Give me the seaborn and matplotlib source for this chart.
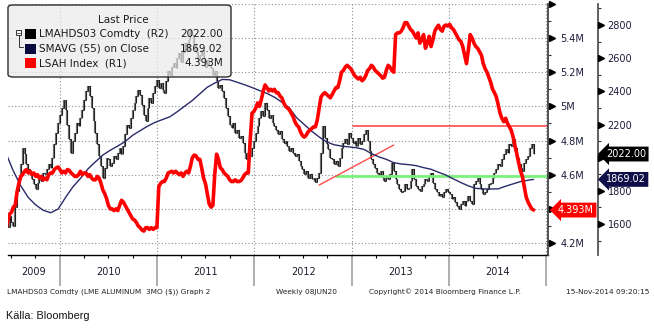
import numpy as np
import pandas as pd
import matplotlib
matplotlib.use("Agg")
import matplotlib.pyplot as plt
import matplotlib.dates as mdates
import matplotlib.ticker as mticker
import matplotlib.transforms as mtransforms
from matplotlib.patches import FancyBboxPatch, Rectangle
from matplotlib.lines import Line2D
import seaborn as sns

# ---------------------------------------------------------------- data
first_week = "2009-06-12"

# LME aluminium 3M, weekly closes (USD/t)
aluminium_close = [
    1620, 1580, 1650, 1610, 1590, 1700, 1800, 1880, 1960, 2060,
    2020, 1960, 1930, 1900, 1870, 1840, 1810, 1850, 1880, 1860,
    1910, 1900, 1930, 1960, 1940, 2000, 2080, 2150, 2210, 2260,
    2300, 2350, 2290, 2200, 2110, 2030, 2100, 2150, 2210, 2190,
    2240, 2290, 2350, 2400, 2430, 2370, 2300, 2220, 2150, 2080,
    2010, 1950, 1880, 1940, 2000, 1990, 1950, 1970, 2010, 1990,
    2030, 2060, 2020, 2070, 2140, 2200, 2180, 2240, 2290, 2330,
    2370, 2410, 2380, 2320, 2260, 2220, 2300, 2360, 2330, 2390,
    2430, 2470, 2420, 2450, 2410, 2390, 2460, 2520, 2500, 2550,
    2570, 2540, 2600, 2630, 2580, 2640, 2690, 2650, 2710, 2770,
    2740, 2680, 2640, 2590, 2620, 2650, 2600, 2550, 2590, 2560,
    2540, 2500, 2520, 2460, 2420, 2440, 2400, 2360, 2300, 2250,
    2200, 2180, 2210, 2150, 2170, 2120, 2130, 2090, 2030, 1990,
    2030, 2010, 2060, 2100, 2150, 2190, 2240, 2280, 2250, 2330,
    2290, 2240, 2260, 2210, 2190, 2170, 2140, 2160, 2110, 2090,
    2100, 2070, 2040, 2060, 2030, 2010, 2020, 1980, 1950, 1930,
    1900, 1920, 1880, 1900, 1870, 1880, 1855, 1880, 1910, 2030,
    2190, 2120, 2080, 2050, 2000, 1990, 1960, 1980, 1950, 2000,
    2060, 2090, 2110, 2080, 2150, 2120, 2090, 2100, 2070, 2120,
    2080, 2100, 2140, 2170, 2100, 2040, 1990, 1960, 1940, 1910,
    1890, 1920, 1880, 1860, 1890, 1870, 1900, 1970, 1920, 1870,
    1840, 1810, 1790, 1800, 1840, 1810, 1820, 1860, 1930, 1870,
    1830, 1810, 1800, 1830, 1840, 1870, 1860, 1890, 1910, 1850,
    1810, 1790, 1770, 1780, 1760, 1790, 1810, 1790, 1780, 1750,
    1760, 1730, 1710, 1690, 1720, 1740, 1710, 1740, 1770, 1740,
    1720, 1840, 1860, 1880, 1840, 1810, 1780, 1790, 1810, 1840,
    1850, 1880, 1910, 1930, 1960, 1950, 1990, 2020, 2050, 2030,
    2080, 2070, 2110, 2060, 2000, 1960, 1940, 1920, 1970, 1990,
    2010, 2060, 2080, 2022.00,
]

# LME aluminium stocks, LSAH Index (million tonnes), weekly
lsah_index_m = [
    4.28, 4.33, 4.37, 4.38, 4.41, 4.42, 4.50, 4.55, 4.59, 4.60,
    4.62, 4.63, 4.61, 4.62, 4.60, 4.61, 4.59, 4.60, 4.58, 4.59,
    4.57, 4.58, 4.57, 4.60, 4.61, 4.61, 4.63, 4.64, 4.645, 4.63,
    4.61, 4.62, 4.61, 4.63, 4.625, 4.61, 4.60, 4.59, 4.59, 4.60,
    4.62, 4.60, 4.61, 4.61, 4.59, 4.60, 4.58, 4.57, 4.57, 4.59,
    4.58, 4.55, 4.51, 4.49, 4.46, 4.42, 4.40, 4.40, 4.39, 4.40,
    4.39, 4.42, 4.45, 4.44, 4.42, 4.40, 4.38, 4.36, 4.34, 4.335,
    4.32, 4.30, 4.29, 4.276, 4.27, 4.29, 4.29, 4.28, 4.29, 4.28,
    4.29, 4.29, 4.53, 4.55, 4.56, 4.56, 4.58, 4.61, 4.615, 4.62,
    4.61, 4.62, 4.61, 4.60, 4.61, 4.59, 4.61, 4.62, 4.61, 4.65,
    4.70, 4.715, 4.71, 4.69, 4.69, 4.64, 4.58, 4.55, 4.49, 4.43,
    4.41, 4.42, 4.60, 4.72, 4.69, 4.64, 4.63, 4.61, 4.60, 4.59,
    4.57, 4.56, 4.56, 4.57, 4.56, 4.56, 4.565, 4.58, 4.60, 4.61,
    4.61, 4.80, 4.96, 4.97, 4.99, 5.02, 5.00, 5.04, 5.09, 5.125,
    5.11, 5.09, 5.10, 5.09, 5.10, 5.08, 5.08, 5.06, 5.05, 5.02,
    5.00, 4.99, 4.98, 4.96, 4.94, 4.91, 4.89, 4.88, 4.85, 4.83,
    4.82, 4.83, 4.85, 4.86, 4.87, 4.88, 4.88, 4.92, 4.99, 5.055,
    5.07, 5.08, 5.07, 5.06, 5.05, 5.07, 5.09, 5.11, 5.11, 5.15,
    5.20, 5.21, 5.23, 5.24, 5.23, 5.22, 5.20, 5.18, 5.17, 5.16,
    5.17, 5.15, 5.16, 5.18, 5.21, 5.22, 5.24, 5.23, 5.21, 5.20,
    5.19, 5.18, 5.165, 5.17, 5.21, 5.24, 5.23, 5.21, 5.20, 5.42,
    5.43, 5.43, 5.44, 5.46, 5.49, 5.49, 5.47, 5.45, 5.44, 5.42,
    5.40, 5.43, 5.37, 5.39, 5.42, 5.34, 5.37, 5.41, 5.35, 5.39,
    5.44, 5.46, 5.475, 5.45, 5.44, 5.47, 5.476, 5.47, 5.48, 5.46,
    5.45, 5.43, 5.41, 5.39, 5.38, 5.35, 5.30, 5.25, 5.33, 5.42,
    5.40, 5.37, 5.35, 5.34, 5.32, 5.30, 5.25, 5.22, 5.20, 5.17,
    5.14, 5.10, 5.08, 5.055, 5.01, 4.96, 4.93, 4.91, 4.93, 4.90,
    4.88, 4.86, 4.82, 4.77, 4.72, 4.67, 4.62, 4.59, 4.53, 4.47,
    4.44, 4.42, 4.40, 4.393,
]

# 55-week simple moving average of the close, sampled every 4th week
sma_week_idx = list(range(0, 281, 4)) + [283]
sma55_close = [
    2028, 1920, 1830, 1760, 1715, 1683, 1668, 1690, 1760, 1825,
    1875, 1932, 1975, 2016, 2045, 2070, 2098, 2135, 2163, 2190,
    2213, 2230, 2247, 2278, 2312, 2345, 2385, 2425, 2450, 2472,
    2470, 2455, 2440, 2423, 2405, 2388, 2365, 2335, 2300, 2240,
    2200, 2160, 2125, 2095, 2078, 2070, 2065, 2060, 2050, 2025,
    2005, 1990, 1970, 1962, 1958, 1952, 1940, 1930, 1912, 1895,
    1872, 1850, 1830, 1815, 1812, 1811, 1812, 1828, 1842, 1856,
    1864, 1869.02,
]

# drawn annotations (price axis)
resistance_level = 2192
resistance_start = "2013-01-04"
support_level = 1891
support_start = "2012-11-02"
trend_dates = ["2012-08-31", "2013-06-07"]
trend_values = [1835, 2076]

year_labels = ["2009", "2010", "2011", "2012", "2013", "2014"]
price_ticks = [1600, 1800, 2000, 2200, 2400, 2600, 2800]
stock_ticks = [4.2, 4.4, 4.6, 4.8, 5.0, 5.2, 5.4, 5.6]

legend_labels = ["LMAHDS03 Comdty  (R2)", "SMAVG (55) on Close", "LSAH Index  (R1)"]

# ---------------------------------------------------------------- style
sns.set_style("white")
plt.rcParams["font.family"] = ["DejaVu Sans"]

W, H = 654, 330
fig = plt.figure(figsize=(W / 100, H / 100), dpi=100)
fig.patch.set_facecolor("white")

# price axis (outer right), stock axis (inner right)
ax = fig.add_axes([8 / W, 1 - 255 / H, 540 / W, 251 / H])
ax2 = ax.twinx()
ax.yaxis.tick_right()
ax.set_zorder(1)
ax2.set_zorder(2)
ax2.patch.set_visible(False)

dates = pd.date_range(first_week, periods=len(aluminium_close), freq="7D")
sma_dates = dates[sma_week_idx]

x0, x1 = pd.Timestamp("2009-06-20"), pd.Timestamp("2015-01-07")
ax.set_xlim(x0, x1)
ax.set_ylim(1413, 2927)
ax2.set_ylim(4.130, 5.599)

# dotted grid: stock-axis levels and year starts
grid_kw = dict(color="#8c8c8c", lw=0.8, ls=(0, (1, 2)), zorder=0)
gtrans = mtransforms.blended_transform_factory(ax.transAxes, ax2.transData)
for v in stock_ticks:
    ax.plot([0, 1], [v, v], transform=gtrans, **grid_kw)
for yr in range(2010, 2016):
    ax.axvline(pd.Timestamp(f"{yr}-01-01"), **grid_kw)

# weekly OHLC bars, open taken as the prior week's close
close = np.asarray(aluminium_close, dtype=float)
open_ = np.r_[close[0], close[:-1]]
hi = np.maximum(open_, close)
lo = np.minimum(open_, close)
ax.vlines(dates, lo, hi, color="#6e6e6e", lw=1.6, zorder=2)
ax.vlines(dates, lo, hi, color="#111111", lw=0.6, zorder=2.1)
tick = pd.Timedelta(days=3)
ax.hlines(open_, dates - tick, dates, color="#111111", lw=0.8, zorder=2.2)
ax.hlines(close, dates, dates + tick, color="#111111", lw=0.8, zorder=2.2)

# moving average and stocks
sns.lineplot(x=sma_dates, y=sma55_close, ax=ax, color="#2a2a6a", lw=1.0, zorder=3)
sns.lineplot(x=dates, y=lsah_index_m, ax=ax2, color="#ff0000", lw=2.6, zorder=3)

# support / resistance / trend lines
ax.plot([pd.Timestamp(resistance_start), x1], [resistance_level] * 2,
        color="#ff4b4b", lw=1.2, zorder=2.5)
ax.plot([pd.Timestamp(support_start), x1], [support_level] * 2,
        color="#7cf27c", lw=2.0, zorder=2.5)
ax.plot(pd.to_datetime(trend_dates), trend_values, color="#ff4b4b", lw=1.0, zorder=2.5)

for a in (ax, ax2):
    a.set_xlabel("")
    a.set_ylabel("")

# ---------------------------------------------------------------- spines
for s in ("top", "left"):
    ax.spines[s].set_visible(False)
ax.spines["bottom"].set_color("black")
ax.spines["bottom"].set_linewidth(1.0)
ax.spines["right"].set_position(("outward", 36))
ax.spines["right"].set_color("#555555")
ax.spines["right"].set_linewidth(1.3)
for s in ("top", "left", "bottom"):
    ax2.spines[s].set_visible(False)
ax2.spines["right"].set_color("#444444")
ax2.spines["right"].set_linewidth(1.3)

# ---------------------------------------------------------------- x axis
ax.xaxis.set_major_locator(mdates.YearLocator())
ax.xaxis.set_minor_locator(mdates.MonthLocator(bymonth=[4, 7, 10]))
ax.xaxis.set_major_formatter(mticker.NullFormatter())
ax.xaxis.set_minor_formatter(mticker.NullFormatter())
ax.tick_params(axis="x", which="both", bottom=True, top=False)
ax.tick_params(axis="x", which="major", length=22, width=1.3, color="#a8a8a8", direction="out")
ax.tick_params(axis="x", which="minor", length=2.5, width=0.8, color="black", direction="out")
xtrans = mtransforms.blended_transform_factory(ax.transData, ax.transAxes)
for lab in year_labels:
    y = int(lab)
    a = max(mdates.date2num(pd.Timestamp(f"{y}-01-01")), mdates.date2num(x0))
    b = min(mdates.date2num(pd.Timestamp(f"{y + 1}-01-01")), mdates.date2num(x1))
    ax.text((a + b) / 2, -0.068, lab, transform=xtrans, ha="center", va="center",
            fontsize=7, color="#1c1c2c")

# ---------------------------------------------------------------- y axes
lab_color = "#1c1c3c"
last_price = close[-1]
last_stock = lsah_index_m[-1]


def price_label(v, p):
    # the level under the last-price tag is left unlabelled
    return "" if abs(v - last_price) < 60 else f"{v:.0f}"


def stock_label(v, p):
    if v > 5.55 or abs(v - last_stock) < 0.05:
        return ""
    return f"{v:g}M"


ax.yaxis.set_major_locator(mticker.FixedLocator(price_ticks))
ax.yaxis.set_minor_locator(mticker.MultipleLocator(100))
ax.yaxis.set_major_formatter(mticker.FuncFormatter(price_label))
ax.tick_params(axis="y", which="both", right=True, left=False)
ax.tick_params(axis="y", which="major", length=0, pad=7, labelsize=7, labelcolor=lab_color)
ax.tick_params(axis="y", which="minor", length=2.5, width=0.8, color="#333333", direction="out")

ax2.yaxis.set_major_locator(mticker.FixedLocator(stock_ticks))
ax2.yaxis.set_minor_locator(mticker.MultipleLocator(0.1))
ax2.yaxis.set_major_formatter(mticker.FuncFormatter(stock_label))
ax2.tick_params(axis="y", which="both", right=True, left=False)
ax2.tick_params(axis="y", which="major", length=0, pad=9, labelsize=7, labelcolor=lab_color)
ax2.tick_params(axis="y", which="minor", length=2.5, width=0.8, color="#333333", direction="out")

# triangle tick markers
ptrans = mtransforms.blended_transform_factory(ax.transAxes, ax.transData)
ax.plot([1 + 53 / 540] * len(price_ticks), price_ticks, transform=ptrans, ls="none",
        marker=">", ms=4, color="black", clip_on=False, zorder=5)
strans = mtransforms.blended_transform_factory(ax2.transAxes, ax2.transData)
ax2.plot([1 + 4 / 540] * len(stock_ticks), stock_ticks, transform=strans, ls="none",
         marker=">", ms=4, color="black", clip_on=False, zorder=5)

# last-value tags
tag_kw = dict(ha="left", va="center", fontsize=7, color="white", zorder=20, clip_on=False)
ax.text(1 + 58 / 540, last_price, f"{last_price:.2f}", transform=ptrans,
        bbox=dict(boxstyle="larrow,pad=0.25", fc="black", ec="none"), **tag_kw)
ax.text(1 + 58 / 540, sma55_close[-1], f"{sma55_close[-1]:.2f}", transform=ptrans,
        bbox=dict(boxstyle="larrow,pad=0.25", fc="#0e0e48", ec="none"), **tag_kw)
ax2.text(1 + 10 / 540, last_stock, f"{last_stock:.3f}M", transform=strans,
         bbox=dict(boxstyle="larrow,pad=0.25", fc="#ff0000", ec="none"), **tag_kw)

# ---------------------------------------------------------------- legend box
def fx(x):
    return x / W


def fy(y):
    return 1 - y / H


box = FancyBboxPatch((fx(8), fy(77)), 223 / W, 72 / H,
                     boxstyle="round,pad=0,rounding_size=0.008",
                     transform=fig.transFigure, fc=(0.92, 0.92, 0.92, 0.72),
                     ec="#2e2e2e", lw=1.0, zorder=30)
fig.add_artist(box)
fig.text(fx(123), fy(20), "Last Price", ha="center", va="center", fontsize=7.5,
         color="#1a1a1a", zorder=31)
legend_colors = ["black", "#0a0a40", "#ff0000"]
legend_values = [f"{last_price:.2f}", f"{sma55_close[-1]:.2f}", f"{last_stock:.3f}M"]
for k, (lab, col, val) in enumerate(zip(legend_labels, legend_colors, legend_values)):
    yy = 34 + 14.5 * k
    fig.add_artist(Rectangle((fx(25), fy(yy + 5)), 11 / W, 10 / H, transform=fig.transFigure,
                             fc=col, ec="none", zorder=31))
    fig.text(fx(39), fy(yy), lab, ha="left", va="center", fontsize=7.5, color="#1a1a1a", zorder=31)
    fig.text(fx(223), fy(yy), val, ha="right", va="center", fontsize=7.5, color="#1a1a1a", zorder=31)
# collapse icon
fig.add_artist(Rectangle((fx(16), fy(35)), 5 / W, 5 / H, transform=fig.transFigure,
                         fc="white", ec="#333333", lw=0.7, zorder=31))
fig.add_artist(Line2D([fx(17), fx(20)], [fy(32.5)] * 2, transform=fig.transFigure,
                      color="#333333", lw=0.6, zorder=32))
fig.add_artist(Line2D([fx(18.5), fx(18.5), fx(23)], [fy(35), fy(47), fy(47)],
                      transform=fig.transFigure, color="#333333", lw=0.7, zorder=31))

# ---------------------------------------------------------------- footer
foot_kw = dict(va="center", fontsize=5.3, color="#222222")
fig.text(fx(7), fy(292), "LMAHDS03 Comdty (LME ALUMINUM  3MO ($)) Graph 2", ha="left", **foot_kw)
fig.text(fx(276), fy(292), "Weekly 08JUN20", ha="left", **foot_kw)
fig.text(fx(369), fy(292), "Copyright\u00a9 2014 Bloomberg Finance L.P.", ha="left", **foot_kw)
fig.text(fx(649), fy(292), "15-Nov-2014 09:20:15", ha="right", **foot_kw)
fig.text(fx(6), fy(316), "Källa: Bloomberg", ha="left", va="center", fontsize=7.8,
         family=["Liberation Sans", "DejaVu Sans"], color="#111111")

fig.savefig("out.png", dpi=100, facecolor="white")
